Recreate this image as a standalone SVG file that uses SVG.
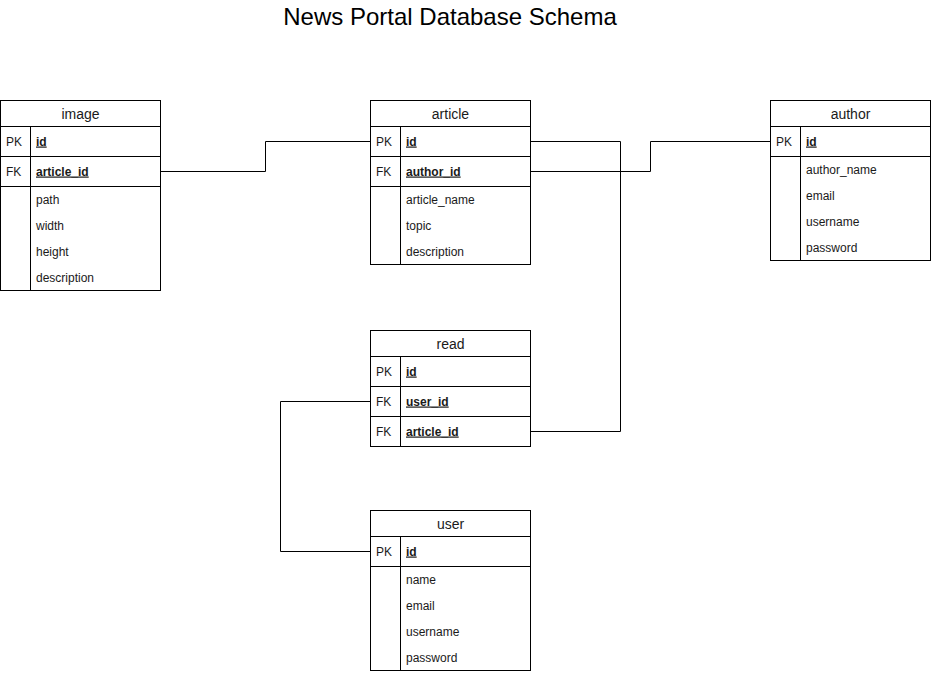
<svg xmlns="http://www.w3.org/2000/svg" width="932" height="674" viewBox="0 0 932 674">
<style>
  .box{fill:#ffffff;stroke:#000000;stroke-width:1}
  .ln{fill:none;stroke:#000000;stroke-width:1}
  .hd{font-family:"Liberation Sans",Arial,sans-serif;font-size:14px;fill:#1a1a1a;text-anchor:middle}
  .k{font-family:"Liberation Sans",Arial,sans-serif;font-size:12px;fill:#1a1a1a}
  .kb{font-family:"Liberation Sans",Arial,sans-serif;font-size:12px;fill:#1a1a1a;font-weight:bold;text-decoration:underline}
  .f{font-family:"Liberation Sans",Arial,sans-serif;font-size:12px;fill:#1a1a1a}
  .title{font-family:"Liberation Sans",Arial,sans-serif;font-size:24px;fill:#000000;text-anchor:middle}
</style>
<rect width="932" height="674" fill="#ffffff"/>
<text class="title" x="450" y="24.5">News Portal Database Schema</text>

<g id="connectors">
  <path class="ln" d="M160.5 171.5 H265.5 V141.5 H370.5"/>
  <path class="ln" d="M530.5 141.5 H620.5 V431.5 H530.5"/>
  <path class="ln" d="M530.5 171.5 H650.5 V141.5 H770.5"/>
  <path class="ln" d="M370.5 401.5 H280.5 V551.5 H370.5"/>
</g>

<g id="image">
  <rect class="box" x="0.5" y="100.5" width="160" height="190"/>
  <path class="ln" d="M0.5 126.5 H160.5 M0.5 156.5 H160.5 M0.5 186.5 H160.5 M30.5 126.5 V290.5"/>
  <text class="hd" x="80.5" y="119">image</text>
  <text class="k" x="6" y="145.5">PK</text>
  <text class="kb" x="36" y="145.5">id</text>
  <text class="k" x="6" y="175.5">FK</text>
  <text class="kb" x="36" y="175.5">article_id</text>
  <text class="f" x="36" y="203.5">path</text>
  <text class="f" x="36" y="229.5">width</text>
  <text class="f" x="36" y="255.5">height</text>
  <text class="f" x="36" y="281.5">description</text>
</g>

<g id="article">
  <rect class="box" x="370.5" y="100.5" width="160" height="164"/>
  <path class="ln" d="M370.5 126.5 H530.5 M370.5 156.5 H530.5 M370.5 186.5 H530.5 M400.5 126.5 V264.5"/>
  <text class="hd" x="450.5" y="119">article</text>
  <text class="k" x="376" y="145.5">PK</text>
  <text class="kb" x="406" y="145.5">id</text>
  <text class="k" x="376" y="175.5">FK</text>
  <text class="kb" x="406" y="175.5">author_id</text>
  <text class="f" x="406" y="203.5">article_name</text>
  <text class="f" x="406" y="229.5">topic</text>
  <text class="f" x="406" y="255.5">description</text>
</g>

<g id="author">
  <rect class="box" x="770.5" y="100.5" width="160" height="160"/>
  <path class="ln" d="M770.5 126.5 H930.5 M770.5 156.5 H930.5 M800.5 126.5 V260.5"/>
  <text class="hd" x="850.5" y="119">author</text>
  <text class="k" x="776" y="145.5">PK</text>
  <text class="kb" x="806" y="145.5">id</text>
  <text class="f" x="806" y="173.5">author_name</text>
  <text class="f" x="806" y="199.5">email</text>
  <text class="f" x="806" y="225.5">username</text>
  <text class="f" x="806" y="251.5">password</text>
</g>

<g id="read">
  <rect class="box" x="370.5" y="330.5" width="160" height="116"/>
  <path class="ln" d="M370.5 356.5 H530.5 M370.5 386.5 H530.5 M370.5 416.5 H530.5 M400.5 356.5 V446.5"/>
  <text class="hd" x="450.5" y="349">read</text>
  <text class="k" x="376" y="375.5">PK</text>
  <text class="kb" x="406" y="375.5">id</text>
  <text class="k" x="376" y="405.5">FK</text>
  <text class="kb" x="406" y="405.5">user_id</text>
  <text class="k" x="376" y="435.5">FK</text>
  <text class="kb" x="406" y="435.5">article_id</text>
</g>

<g id="user">
  <rect class="box" x="370.5" y="510.5" width="160" height="160"/>
  <path class="ln" d="M370.5 536.5 H530.5 M370.5 566.5 H530.5 M400.5 536.5 V670.5"/>
  <text class="hd" x="450.5" y="529">user</text>
  <text class="k" x="376" y="555.5">PK</text>
  <text class="kb" x="406" y="555.5">id</text>
  <text class="f" x="406" y="583.5">name</text>
  <text class="f" x="406" y="609.5">email</text>
  <text class="f" x="406" y="635.5">username</text>
  <text class="f" x="406" y="661.5">password</text>
</g>
</svg>
